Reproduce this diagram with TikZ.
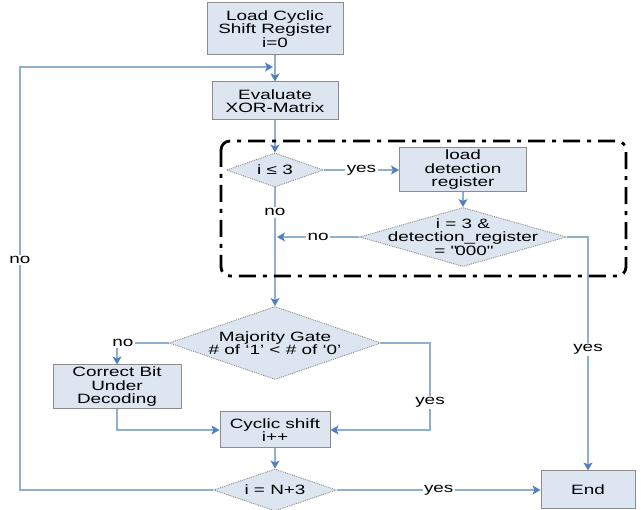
\documentclass[tikz,border=0pt]{standalone}
\usepackage{fontspec}
\setmainfont{Liberation Sans}[FakeStretch=1.4]
\usetikzlibrary{arrows.meta, shapes.geometric}
\definecolor{boxfill}{HTML}{DCE5F0}
\definecolor{boxline}{HTML}{8C8C8C}
\definecolor{flowline}{HTML}{8FAFD0}
\definecolor{tipblue}{HTML}{4F7FBF}

\begin{document}
\begin{tikzpicture}[x=1pt, y=-1pt,
  every node/.style={font=\fontsize{13.5}{13.5}\selectfont},
  process/.style={draw=boxline, fill=boxfill, line width=1pt, inner sep=0pt, align=center},
  decision/.style={diamond, draw=boxline, densely dotted, line width=0.9pt, fill=boxfill, inner sep=0pt},
  flow/.style={draw=flowline, line width=1.3pt, -{Stealth[length=8pt, width=9pt, inset=2pt, color=tipblue]}},
  tag/.style={fill=white, inner sep=1.5pt}]
  \useasboundingbox (0,0) rectangle (641,510);

  % boxes
  \node[process, minimum width=136, minimum height=52] (load) at (275,29) {Load Cyclic\\Shift Register\\i=0};
  \node[process, minimum width=126, minimum height=38] (eval) at (275,101) {Evaluate\\XOR-Matrix};
  \node[process, minimum width=127, minimum height=44] (detect) at (463,170) {load\\detection\\register};
  \node[process, minimum width=128, minimum height=44] (corr) at (117,387) {Correct Bit\\Under\\Decoding};
  \node[process, minimum width=110, minimum height=36] (shift) at (275,430) {Cyclic shift\\i++};
  \node[process, minimum width=94, minimum height=38] (endb) at (588,490) {End};

  % decisions (text set on top)
  \node[decision, minimum width=97, minimum height=34] (le3) at (275,170) {};
  \node[align=center] (le3txt) at (le3) {i ≤ 3};
  \node[decision, minimum width=207, minimum height=59] (chk) at (463,237) {};
  \node[align=center] (chktxt) at (chk) {i = 3 \&\\detection\_register\\= \textquotedbl000\textquotedbl};
  \node[decision, minimum width=212, minimum height=73] (maj) at (275,343) {};
  \node[align=center] (majtxt) at (maj) {Majority Gate\\\# of ‘1’ < \# of ‘0’};
  \node[decision, minimum width=123, minimum height=42] (nplus) at (275,490) {};
  \node[align=center] (nplustxt) at (nplus) {i = N+3};

  % helper points
  \coordinate (join) at (273,67);
  \coordinate (merge) at (277,237);
  \coordinate (ybend) at (430,430);
  \coordinate (lowleft) at (20,490);
  \coordinate (upleft) at (20,67);

  % connectors
  \draw[flow] (load) -- (eval);
  \draw[flow] (eval) -- (le3);
  \draw[flow] (le3.east) -- node[tag]{yes} (detect.west);
  \draw[flow] (detect) -- (chk);
  \draw[flow] (chk.west) -- node[tag]{no} (merge);
  \draw[flow] (le3.south) -- node[tag, pos=0.21]{no} (maj.north);
  \draw[flow] (chk.east) -| node[tag, pos=0.74]{yes} (endb.north);
  \draw[flow] (maj.west) -| node[tag, pos=0.5, xshift=6pt]{no} (corr.north);
  \draw[flow] (maj.east) -| node[tag, pos=0.84]{yes} (ybend) -- (shift.east);
  \draw[flow] (corr.south) |- (shift.west);
  \draw[flow] (shift) -- (nplus);
  \draw[flow] (nplus.east) -- node[tag]{yes} (endb.west);
  \draw[flow] (nplus.west) -- (lowleft) -- node[tag, pos=0.544]{no} (upleft) -- (join);

  % dash-dot frame
  \draw[black, line width=2.8pt, rounded corners=9pt, dash pattern=on 17pt off 7pt on 4pt off 7pt] (221,141) rectangle (626,276);
\end{tikzpicture}
\end{document}
